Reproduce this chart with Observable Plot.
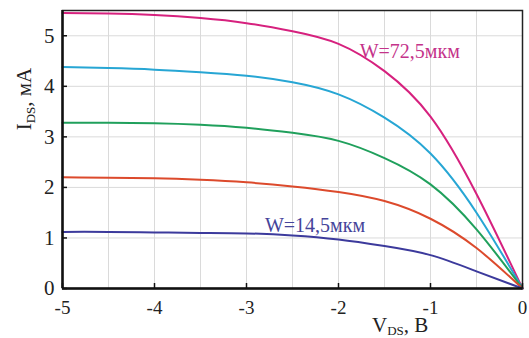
<!DOCTYPE html>
<html>
<head>
<meta charset="utf-8">
<script src="https://cdn.jsdelivr.net/npm/d3@7"></script>
<script src="https://cdn.jsdelivr.net/npm/@observablehq/plot@0.6"></script>
<style>
  html, body { margin: 0; padding: 0; background: #fff; }
  #chart svg { display: block; }
  #chart svg text { font-family: "Liberation Serif", "DejaVu Serif", serif; }
</style>
</head>
<body>
<div id="chart"></div>
<script>
// V_DS, B
const vds = [-5, -4.5, -4, -3.5, -3, -2.5, -2, -1.5, -1, -0.5, 0];
// I_DS, мА for each gate width (top to bottom)
const iW72 = [5.45, 5.44, 5.41, 5.35, 5.25, 5.09, 4.84, 4.30, 3.40, 1.87, 0];
const iW4  = [4.38, 4.36, 4.33, 4.28, 4.21, 4.08, 3.84, 3.38, 2.67, 1.50, 0];
const iW3  = [3.28, 3.28, 3.27, 3.24, 3.18, 3.08, 2.92, 2.58, 2.06, 1.17, 0];
const iW2  = [2.20, 2.19, 2.18, 2.15, 2.10, 2.02, 1.91, 1.73, 1.38, 0.80, 0];
const iW14 = [1.12, 1.12, 1.11, 1.10, 1.09, 1.05, 0.97, 0.84, 0.66, 0.34, 0];
const seriesNames = ["w72", "w4", "w3", "w2", "w14"];
const seriesValues = [iW72, iW4, iW3, iW2, iW14];
const seriesColors = ["#d6217e", "#27a6d4", "#20a05c", "#dc4a2c", "#3c3a9c"];
const xTicks = [-5, -4, -3, -2, -1, 0];
const yTicks = [0, 1, 2, 3, 4, 5];
const xGrid = [-4.5, -4, -3.5, -3, -2.5, -2, -1.5, -1, -0.5];
const yGrid = [1, 2, 3, 4, 5];
const labelTexts = ["W=72,5мкм", "W=14,5мкм"];

const rows = [];
seriesNames.forEach((s, k) => vds.forEach((v, i) => rows.push({s, v, i: seriesValues[k][i]})));

const labels = [
  {t: labelTexts[0], x: -1.77, y: 4.57, c: "#c4338a"},
  {t: labelTexts[1], x: -2.8, y: 1.12, c: "#45449a"}
];

const font = "Liberation Serif, DejaVu Serif, serif";

const chart = Plot.plot({
  width: 529,
  height: 338,
  marginLeft: 62,
  marginRight: 7,
  marginTop: 10,
  marginBottom: 50,
  style: {fontFamily: font, background: "#fff"},
  x: {domain: [-5, 0]},
  y: {domain: [0, 5.5]},
  color: {domain: seriesNames, range: seriesColors},
  marks: [
    Plot.gridX(xGrid, {stroke: "#dadada", strokeOpacity: 1, strokeWidth: 1}),
    Plot.gridY(yGrid, {stroke: "#dadada", strokeOpacity: 1, strokeWidth: 1}),
    Plot.line(rows, {x: "v", y: "i", z: "s", stroke: "s", strokeWidth: 2, curve: "natural"}),
    Plot.frame({stroke: "#222", strokeWidth: 1.5}),
    Plot.ruleX([-5], {stroke: "#111", strokeWidth: 2.5}),
    Plot.ruleY([0], {stroke: "#111", strokeWidth: 2.5}),
    Plot.axisX(xTicks, {tickSize: -5, tickFormat: () => "", stroke: "#111", strokeWidth: 1.5, label: null}),
    Plot.axisY(yTicks, {tickSize: -5, tickFormat: () => "", stroke: "#111", strokeWidth: 1.5, label: null}),
    Plot.axisX(xTicks, {tickSize: 0, tickPadding: 12, fontSize: 19, fontFamily: font, fill: "#222", label: null, tickFormat: d => String(d)}),
    Plot.axisY(yTicks, {tickSize: 0, tickPadding: 8, fontSize: 21, fontFamily: font, fill: "#222", label: null, tickFormat: d => String(d)}),
    Plot.text(labels, {x: "x", y: "y", text: "t", fill: "c", textAnchor: "start", lineAnchor: "bottom", fontSize: 20, fontFamily: font})
  ]
});

// axis titles with subscripts
const svg = d3.select(chart);
const yTitle = svg.append("text")
  .attr("transform", "translate(31,99) rotate(-90)")
  .attr("text-anchor", "middle")
  .attr("font-family", font)
  .attr("font-size", 21)
  .attr("fill", "#222");
yTitle.append("tspan").text("I");
yTitle.append("tspan").attr("font-size", 13).attr("dy", 4).text("DS");
yTitle.append("tspan").attr("dy", -4).text(", мА");

const xTitle = svg.append("text")
  .attr("x", 372)
  .attr("y", 332)
  .attr("text-anchor", "start")
  .attr("font-family", font)
  .attr("font-size", 21)
  .attr("fill", "#222");
xTitle.append("tspan").text("V");
xTitle.append("tspan").attr("font-size", 13).attr("dy", 3).text("DS");
xTitle.append("tspan").attr("dy", -3).text(", B");

document.getElementById("chart").appendChild(chart);
</script>
</body>
</html>
